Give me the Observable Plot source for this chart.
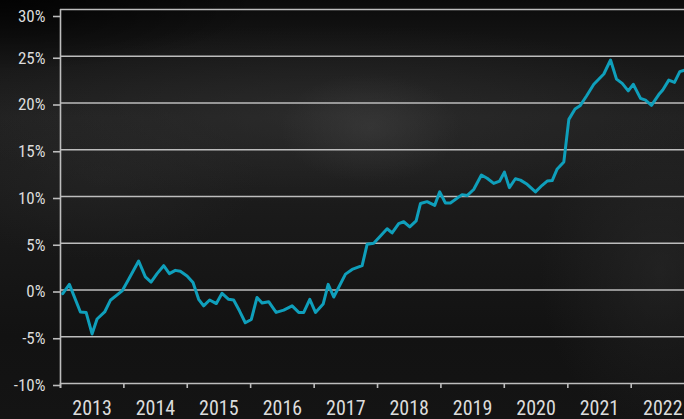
<!DOCTYPE html>
<html>
<head>
<meta charset="utf-8">
<script src="https://cdn.jsdelivr.net/npm/d3@7"></script>
<script src="https://cdn.jsdelivr.net/npm/@observablehq/plot@0.6"></script>
<style>
  html, body { margin: 0; padding: 0; background: #141414; }
  #chart {
    width: 684px; height: 419px; overflow: hidden; position: relative;
    background:
      radial-gradient(ellipse 260px 70px at 0px 0px, rgba(0,0,0,0.75), rgba(0,0,0,0)),
      radial-gradient(ellipse 90px 55px at 370px 128px, rgba(80,80,80,0.3), rgba(80,80,80,0)),
      radial-gradient(ellipse 380px 90px at 330px 115px, rgba(55,55,55,0.45), rgba(55,55,55,0)),
      radial-gradient(ellipse 120px 160px at 660px 270px, rgba(50,50,50,0.4), rgba(50,50,50,0)),
      radial-gradient(ellipse 160px 80px at 100px 180px, rgba(45,45,45,0.35), rgba(45,45,45,0)),
      linear-gradient(to bottom, #0b0b0b 0%, #161616 12%, #212121 28%, #1c1c1c 45%, #171717 62%, #121212 80%, #141414 100%);
  }
  svg { background: transparent !important; }
</style>
</head>
<body>
<div id="chart"></div>
<script>
// decimal-year positions of the line's vertices
const years = [2013.035,2013.140,2013.314,2013.404,2013.498,2013.577,2013.697,2013.787,2013.972,
  2014.076,2014.233,2014.339,2014.429,2014.524,2014.628,2014.718,2014.812,2014.891,2014.997,
  2015.091,2015.180,2015.259,2015.353,2015.459,2015.549,2015.653,2015.732,2015.826,2015.916,
  2016.011,2016.101,2016.180,2016.284,2016.401,2016.521,2016.653,2016.757,2016.836,2016.931,
  2017.021,2017.142,2017.221,2017.309,2017.494,2017.599,2017.757,2017.836,2017.940,
  2018.035,2018.151,2018.230,2018.334,2018.413,2018.508,2018.609,2018.677,2018.782,2018.902,2018.981,
  2019.071,2019.150,2019.334,2019.413,2019.517,2019.639,2019.729,2019.833,2019.927,
  2020.002,2020.080,2020.175,2020.254,2020.360,2020.491,2020.596,2020.675,2020.754,2020.833,2020.937,
  2021.016,2021.114,2021.192,2021.295,2021.410,2021.568,2021.674,2021.768,2021.858,2021.953,
  2022.032,2022.147,2022.226,2022.320,2022.435,2022.498,2022.593,2022.683,2022.767,2022.841];
// cumulative return in %
const values = [-0.4,0.6,-2.35,-2.4,-4.7,-3.1,-2.35,-1.1,-0.1,
  1.15,3.1,1.4,0.85,1.75,2.6,1.75,2.1,2.0,1.5,
  0.8,-1.0,-1.7,-1.07,-1.45,-0.35,-1.0,-1.07,-2.25,-3.5,
  -3.15,-0.8,-1.4,-1.25,-2.4,-2.15,-1.7,-2.4,-2.4,-1.0,
  -2.4,-1.5,0.6,-0.75,1.7,2.2,2.6,4.9,5.0,
  5.7,6.55,6.1,7.1,7.3,6.75,7.4,9.25,9.45,9.05,10.5,
  9.3,9.3,10.2,10.1,10.75,12.3,11.95,11.4,11.65,
  12.6,10.95,11.9,11.75,11.3,10.5,11.2,11.65,11.7,12.95,13.7,
  18.25,19.35,19.7,20.75,22.0,23.1,24.6,22.55,22.1,21.3,
  22.0,20.5,20.3,19.75,20.9,21.4,22.45,22.2,23.35,23.5];
const yearLabels = ["2013","2014","2015","2016","2017","2018","2019","2020","2021","2022"];
const yTicks = [-10,-5,0,5,10,15,20,25,30];

const toDate = y => {
  const yr = Math.floor(y);
  const s = Date.UTC(yr, 0, 1), e = Date.UTC(yr + 1, 0, 1);
  return new Date(s + (y - yr) * (e - s));
};
const data = years.map((y, i) => ({date: toDate(y), value: values[i]}));
const yearStarts = yearLabels.map(y => new Date(Date.UTC(+y, 0, 1)));
const midYears = yearLabels.map(y => new Date(Date.UTC(+y, 6, 2)));
const fontFam = "'Roboto Condensed', 'Liberation Sans Narrow', 'DejaVu Sans Condensed', Roboto, sans-serif";
const gridColor = "#bdbdbd";
const textColor = "#dcdcdc";

const plot = Plot.plot({
  width: 684,
  height: 419,
  marginLeft: 60,
  marginRight: 0,
  marginTop: 9,
  marginBottom: 36,
  style: {background: "transparent", fontFamily: fontFam, color: textColor},
  x: {type: "utc", domain: [toDate(2013), toDate(2022.841)]},
  y: {domain: [-10, 30]},
  marks: [
    Plot.gridY(yTicks, {stroke: gridColor, strokeOpacity: 1, strokeWidth: 1.6}),
    Plot.axisY(yTicks.filter(d => d !== 30), {tickSize: 7, tickPadding: 8, stroke: gridColor, strokeWidth: 1.6,
      tickFormat: d => d + "%", fontSize: 17, fill: textColor, dy: 2, label: null}),
    Plot.axisY([30], {tickSize: 7, tickPadding: 8, stroke: gridColor, strokeWidth: 1.6,
      tickFormat: d => d + "%", fontSize: 17, fill: textColor, dy: 7, label: null}),
    Plot.axisX(yearStarts, {tickSize: 5, stroke: gridColor, strokeWidth: 1.6, tickFormat: () => "", label: null}),
    Plot.axisX(midYears, {tickSize: 0, tickPadding: 17, tickFormat: d => String(d.getUTCFullYear()),
      fontSize: 20, fill: textColor, label: null}),
    Plot.ruleX([toDate(2013)], {stroke: gridColor, strokeWidth: 1.6, insetBottom: -5}),
    Plot.line(data, {x: "date", y: "value", stroke: "#0f9fbb", strokeWidth: 3})
  ]
});
document.getElementById("chart").appendChild(plot);
</script>
</body>
</html>
